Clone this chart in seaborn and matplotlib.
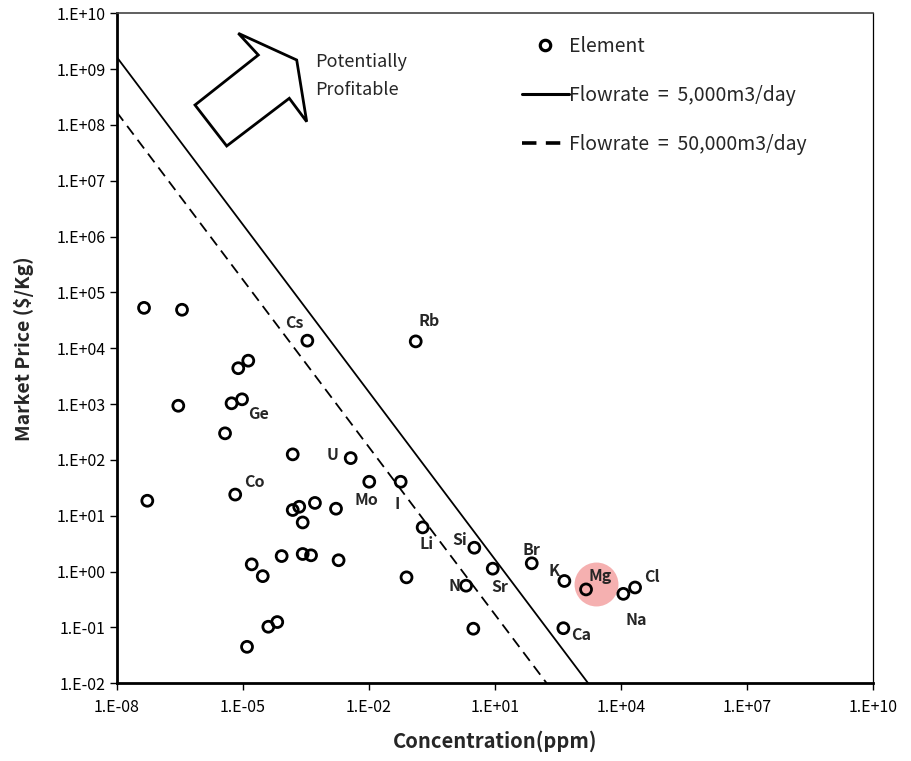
import matplotlib
matplotlib.use("Agg")
import matplotlib.pyplot as plt
import seaborn as sns
import pandas as pd
from matplotlib.lines import Line2D
from matplotlib.patches import Polygon
from matplotlib.ticker import FixedLocator, FixedFormatter, NullLocator

# Seawater elements: concentration (ppm) and market price ($/kg)
concentration = [4.47e-8, 3.58e-7, 3.43e-4, 0.130, 1.35e-5, 7.8e-6, 2.92e-7, 9.6e-6,
                 5.4e-6, 3.78e-6, 1.54e-4, 3.69e-3, 1.02e-2, 5.7e-2, 6.6e-6, 5.35e-8,
                 5.2e-4, 2.2e-4, 1.54e-4, 1.65e-3, 2.66e-4, 0.19, 8.4e-5, 2.66e-4,
                 4.2e-4, 1.9e-3, 1.63e-5, 2.98e-5, 7.85e-2, 6.6e-5, 4.05e-5, 1.26e-5,
                 3.22, 8.83, 2.05, 74.8, 447, 1466, 1.13e4, 2.15e4, 3.05, 423]
price = [5.3e4, 4.9e4, 1.37e4, 1.33e4, 6.0e3, 4.4e3, 935, 1220,
         1035, 300, 126, 108, 40.7, 40.7, 24, 18.6,
         17, 14.5, 12.7, 13.4, 7.6, 6.2, 1.9, 2.07,
         1.96, 1.6, 1.35, 0.83, 0.79, 0.125, 0.103, 0.045,
         2.68, 1.13, 0.56, 1.41, 0.68, 0.48, 0.40, 0.52, 0.095, 0.097]
element = ["", "", "Cs", "Rb", "", "", "", "Ge",
           "", "", "", "U", "Mo", "I", "Co", "",
           "", "", "", "", "", "Li", "", "",
           "", "", "", "", "", "", "", "",
           "Si", "Sr", "N", "Br", "K", "Mg", "Na", "Cl", "", "Ca"]

# Break-even lines (price = k / concentration) for two flowrates
flow_5000_conc = [1e-8, 1.65e3]
flow_5000_price = [1.65e9, 1e-2]
flow_50000_conc = [1e-8, 1.7e2]
flow_50000_price = [1.7e8, 1e-2]

# Highlighted element
highlight_conc = [2.54e3]
highlight_price = [0.60]

x_ticks = [1e-8, 1e-5, 1e-2, 1e1, 1e4, 1e7, 1e10]
x_tick_labels = ["1.E-08", "1.E-05", "1.E-02", "1.E+01", "1.E+04", "1.E+07", "1.E+10"]
y_ticks = [1e-2, 1e-1, 1e0, 1e1, 1e2, 1e3, 1e4, 1e5, 1e6, 1e7, 1e8, 1e9, 1e10]
y_tick_labels = ["1.E-02", "1.E-01", "1.E+00", "1.E+01", "1.E+02", "1.E+03", "1.E+04",
                 "1.E+05", "1.E+06", "1.E+07", "1.E+08", "1.E+09", "1.E+10"]

sns.set_style("white")
plt.rcParams["font.family"] = ["Noto Sans CJK KR", "DejaVu Sans"]

W, H = 911, 761
fig = plt.figure(figsize=(W / 100, H / 100), dpi=100)
ax = fig.add_axes([116.7 / W, 1 - 683.3 / H, (873.3 - 116.7) / W, (683.3 - 13.3) / H])

df = pd.DataFrame({"conc": concentration, "price": price, "element": element})

# highlight disc behind Mg
sns.scatterplot(x=highlight_conc, y=highlight_price, ax=ax, s=1000, color="#ef7c7c",
                alpha=0.6, linewidth=0, zorder=1, legend=False)

sns.lineplot(x=flow_5000_conc, y=flow_5000_price, ax=ax, color="black", lw=1.3,
             zorder=2, legend=False)
sns.lineplot(x=flow_50000_conc, y=flow_50000_price, ax=ax, color="black", lw=1.3,
             linestyle=(0, (6, 3.6)), zorder=2, legend=False)

sns.scatterplot(data=df, x="conc", y="price", ax=ax, s=62, facecolor="none",
                edgecolor="black", linewidth=2.0, zorder=3, legend=False)

ax.set_xscale("log")
ax.set_yscale("log")
ax.set_xlim(1e-8, 1e10)
ax.set_ylim(1e-2, 1e10)

ax.xaxis.set_major_locator(FixedLocator(x_ticks))
ax.xaxis.set_major_formatter(FixedFormatter(x_tick_labels))
ax.yaxis.set_major_locator(FixedLocator(y_ticks))
ax.yaxis.set_major_formatter(FixedFormatter(y_tick_labels))
ax.xaxis.set_minor_locator(NullLocator())
ax.yaxis.set_minor_locator(NullLocator())
ax.tick_params(axis="both", which="major", direction="out", length=5, width=1,
               color="black", labelsize=11.5, labelcolor="black", pad=3,
               bottom=True, left=True)
ax.tick_params(axis="x", pad=6)

for side, lw, col in [("left", 2.0, "black"), ("bottom", 2.0, "black"),
                      ("top", 1.2, "#444444"), ("right", 0.9, "black")]:
    ax.spines[side].set_visible(True)
    ax.spines[side].set_color(col)
    ax.spines[side].set_linewidth(lw)

ax.set_xlabel("Concentration(ppm)", fontsize=14.5, fontweight="bold", labelpad=11)
ax.set_ylabel("Market Price ($/Kg)", fontsize=14, fontweight="bold", labelpad=16)

# element labels, offsets in points
label_offsets = {
    "Cs": (-9.4, 13), "Rb": (9.4, 15), "Ge": (11.5, -10.8), "U": (-13, 2.2),
    "Co": (13.7, 9.4), "Mo": (-1.9, -13), "I": (-2.4, -16), "Li": (2.9, -12.2),
    "Si": (-10.8, 5.8), "N": (-8.6, 0), "Sr": (4.8, -13), "Br": (0, 9.4),
    "K": (-7.2, 7.2), "Mg": (10, 9.4), "Na": (9.4, -18.7), "Cl": (12.2, 7.9),
    "Ca": (13, -5),
}
for c, p, name in zip(concentration, price, element):
    if name:
        ax.annotate(name, (c, p), xytext=label_offsets[name], textcoords="offset points",
                    ha="center", va="center", fontsize=11.5, fontweight="bold", zorder=4)

# "Potentially Profitable" block arrow (figure pixel coordinates)
arrow_px = [(238.3, 33.3), (296.7, 60), (306.7, 121.7), (289.3, 98.3),
            (226.7, 146), (195, 105), (258.3, 55)]
arrow = Polygon([(x / W, 1 - y / H) for x, y in arrow_px], closed=True,
                facecolor="white", edgecolor="black", lw=2.0, joinstyle="miter",
                transform=fig.transFigure, zorder=5)
fig.patches.append(arrow)
fig.text(315 / W, 1 - 61.7 / H, "Potentially", fontsize=13, ha="left", va="center")
fig.text(315 / W, 1 - 90 / H, "Profitable", fontsize=13, ha="left", va="center")

handles = [
    Line2D([], [], marker="o", linestyle="none", markerfacecolor="none",
           markeredgecolor="black", markeredgewidth=2.3, markersize=7.5),
    Line2D([], [], color="black", lw=2.2),
    Line2D([], [], color="black", lw=2.6, linestyle=(0, (4.0, 2.6))),
]
labels = ["Element", "Flowrate  =  5,000m3/day", "Flowrate  =  50,000m3/day"]
leg = ax.legend(handles, labels, loc="upper left", bbox_to_anchor=(522 / W, 1 - 35.5 / H),
                bbox_transform=fig.transFigure, frameon=False, fontsize=14,
                handlelength=2.4, handletextpad=0.0, labelspacing=1.46,
                borderaxespad=0, borderpad=0)

fig.savefig("out.png", dpi=100)
